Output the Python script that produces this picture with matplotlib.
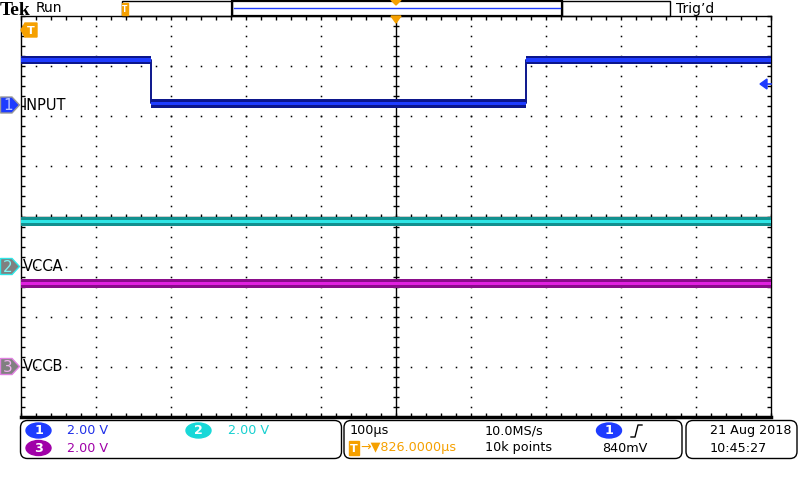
import numpy as np
import matplotlib
matplotlib.use('Agg')
import matplotlib.pyplot as plt
from matplotlib.patches import Polygon, Rectangle, Ellipse, FancyBboxPatch

# Scope settings
volts_per_div = 2.0
time_per_div = 100          # us
ch_offsets = [2.23, -1.0, -3.0]   # divisions from centre
ch_names = ['INPUT', 'VCCA', 'VCCB']
ch_scales = ['2.00 V', '2.00 V', '2.00 V']
trig_level = 0.84           # V on ch1

# Traces (time in us relative to screen centre, volts)
ch1_t = [-500, -326, -326, 174, 174, 500]
ch1_v = [1.78, 1.78, 0.05, 0.05, 1.78, 1.78]
ch2_t = [-500, 500]
ch2_v = [1.80, 1.80]
ch3_t = [-500, 500]
ch3_v = [3.32, 3.32]

c_blue, c_blue_dk = '#1e3cff', '#0c168c'
c_cyan, c_cyan_dk = '#2ee6e6', '#12908f'
c_mag, c_mag_dk = '#e020e0', '#8a0c8a'
c_orange = '#f5a000'

fig = plt.figure(figsize=(8, 4.8), dpi=100)
fig.patch.set_facecolor('white')

# graticule axes: x 20..771 px, y 16..417 px
ax = fig.add_axes([20.5 / 800, 1 - 417 / 480, 750.5 / 800, 401 / 480])
ax.set_xlim(-5 * time_per_div, 5 * time_per_div)
ax.set_ylim(-4, 4)
ax.set_xticks(np.arange(-500, 501, 20))
ax.set_yticks(np.arange(-4, 4.01, 0.2))
ax.tick_params(direction='in', length=3, width=1, top=True, right=True,
               labelbottom=False, labelleft=False)
for s in ax.spines.values():
    s.set_linewidth(1)
ax.spines['bottom'].set_linewidth(2.5)

# dotted grid
xdots = np.arange(-500, 501, 20)
ydots = np.arange(-4, 4.01, 0.2)
for gx in range(-400, 401, 100):
    if gx != 0:
        ax.plot(np.full(len(ydots), gx), ydots, ls='none', marker='s',
                ms=1.1, mew=0, color='black')
for gy in range(-3, 4):
    if gy != 0:
        ax.plot(xdots, np.full(len(xdots), gy), ls='none', marker='s',
                ms=1.1, mew=0, color='black')
# centre cross with subdivision ticks
ax.axhline(0, color='black', lw=1)
ax.axvline(0, color='black', lw=1)
ax.plot(xdots, np.zeros(len(xdots)), ls='none', marker='|', ms=5,
        mew=1, color='black')
ax.plot(np.zeros(len(ydots)), ydots, ls='none', marker='_', ms=5,
        mew=1, color='black')


def draw_trace(t, v, off, dark, bright):
    t = np.asarray(t, float)
    y = np.asarray(v, float) / volts_per_div + off
    ax.fill_between(t, y - 0.085, y + 0.085, color=dark, lw=0, zorder=5)
    ax.fill_between(t, y - 0.035, y + 0.035, color=bright, lw=0, zorder=6)
    ax.plot(t, y, color=dark, lw=1.4, zorder=5)


draw_trace(ch1_t, ch1_v, ch_offsets[0], c_blue_dk, c_blue)
draw_trace(ch2_t, ch2_v, ch_offsets[1], c_cyan_dk, c_cyan)
draw_trace(ch3_t, ch3_v, ch_offsets[2], c_mag_dk, c_mag)

# overlay in pixel coordinates for the scope decorations
ov = fig.add_axes([0, 0, 1, 1], zorder=10)
ov.set_xlim(0, 800)
ov.set_ylim(480, 0)
ov.axis('off')
ov.patch.set_alpha(0)


def ypx(div):
    return 216.5 - div * 50


# top bar
ov.text(0, 15, 'Tek', family=['Liberation Serif', 'DejaVu Serif'],
        weight='bold', fontsize=14, va='baseline', ha='left')
ov.text(36, 8.5, 'Run', fontsize=10, va='center')
ov.add_patch(Rectangle((122, 0.5), 110, 15, fill=False, ec='black', lw=1))
ov.add_patch(Rectangle((232, 0.5), 330, 15, fill=False, ec='black', lw=1.6))
ov.add_patch(Rectangle((562, 0.5), 108, 15, fill=False, ec='black', lw=1))
ov.plot([234, 560], [7.5, 7.5], color=c_blue, lw=1)
ov.add_patch(Rectangle((122, 3), 6, 12, color=c_orange))
ov.text(125, 9.5, 'T', color='white', fontsize=5.5, weight='bold',
        ha='center', va='center')
ov.add_patch(Polygon([(391, 0), (401, 0), (396, 5)], color=c_orange))
ov.text(676, 8.5, "Trig\u2019d", fontsize=10, va='center')

# trigger position / level markers
ov.add_patch(Polygon([(391, 16), (401, 16), (396, 23)], color=c_orange))
ov.add_patch(Polygon([(21, 30), (25, 23), (37, 23), (37, 37), (25, 37)],
                     color=c_orange))
ov.text(31, 30.5, 'T', color='white', fontsize=8, weight='bold',
        ha='center', va='center')
ty = ypx(ch_offsets[0] + trig_level / volts_per_div)
ov.add_patch(Polygon([(760, ty), (767, ty - 5), (767, ty + 5)], color=c_blue))
ov.plot([766, 771], [ty, ty], color=c_blue, lw=1.2)

# channel ground markers and names
marker_style = [(c_blue, '#9a9a9a', '#b8c4ff'),
                ('#808080', c_cyan, '#7ff4f4'),
                ('#808080', '#e080e0', '#f0b0f0')]
for i, (off, name) in enumerate(zip(ch_offsets, ch_names)):
    y = ypx(off)
    fc, ec, tc = marker_style[i]
    ov.add_patch(Polygon([(0.5, y - 8), (12, y - 8), (19.5, y), (12, y + 8),
                          (0.5, y + 8)], fc=fc, ec=ec, lw=1))
    ov.text(8, y + 0.5, str(i + 1), color=tc, fontsize=11, ha='center',
            va='center')
    ov.text(23, y, name, fontsize=10.5, va='center')

# bottom readout boxes
for x0, w in [(20.5, 321), (344, 338), (686, 111)]:
    ov.add_patch(FancyBboxPatch((x0, 420.5), w, 38,
                                boxstyle='round,pad=0,rounding_size=7',
                                fc='white', ec='black', lw=1))

fs = 9.2
pills = [(38.5, 430.5, c_blue, '1'), (198.5, 430.5, '#18d8d8', '2'),
         (38.5, 448, '#a000a8', '3'), (609, 430.5, c_blue, '1')]
for px, py, col, lab in pills:
    ov.add_patch(Ellipse((px, py), 25, 15, color=col))
    ov.text(px, py + 0.5, lab, color='white', fontsize=fs, weight='bold',
            ha='center', va='center')
ov.text(67, 430.5, ch_scales[0], color='#2030e8', fontsize=fs, va='center')
ov.text(228, 430.5, ch_scales[1], color='#18d0d0', fontsize=fs, va='center')
ov.text(67, 448, ch_scales[2], color='#a000a8', fontsize=fs, va='center')

ov.text(350, 430.5, '100\u00b5s', fontsize=fs, va='center')
ov.add_patch(Rectangle((349, 441), 10, 14, color=c_orange))
ov.text(354, 448.5, 'T', color='white', fontsize=8, weight='bold',
        ha='center', va='center')
ov.text(360, 448, '\u2192\u25bc826.0000\u00b5s', color=c_orange, fontsize=fs,
        va='center')
ov.text(485, 430.5, '10.0MS/s', fontsize=fs, va='center')
ov.text(485, 448, '10k points', fontsize=fs, va='center')
ov.plot([631, 635, 638, 642], [437, 437, 425, 425], color='black', lw=1)
ov.text(602, 448, '840mV', fontsize=fs, va='center')
ov.text(710, 430.5, '21 Aug 2018', fontsize=fs, va='center')
ov.text(710, 448, '10:45:27', fontsize=fs, va='center')

fig.savefig('out.png', dpi=100)
